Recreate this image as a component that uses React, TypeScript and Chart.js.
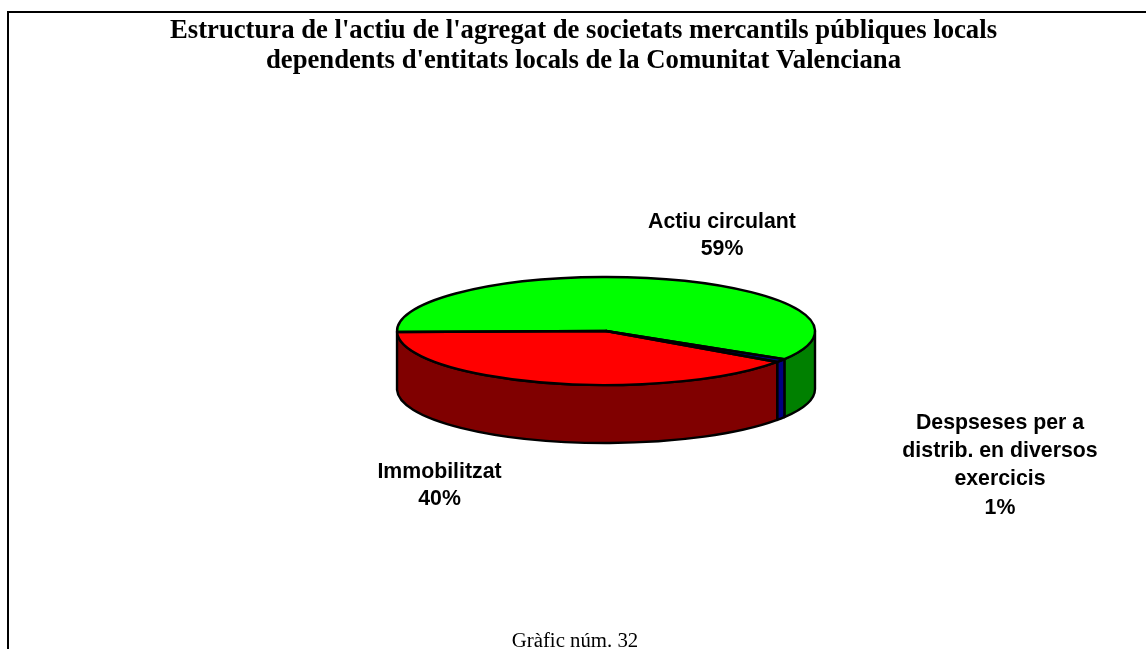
import React, { useEffect, useRef } from "react";
import { Chart, registerables } from "chart.js";

Chart.register(...registerables);

const categories = ["Actiu circulant", "Despseses per a distrib. en diversos exercicis", "Immobilitzat"];
const shares = [59, 1, 40];
const topColors = ["#00ff00", "#000080", "#ff0000"];
const wallColors = ["#008000", "#000080", "#800000"];
const titleLines = [
  "Estructura de l'actiu de l'agregat de societats mercantils públiques locals",
  "dependents d'entitats locals de la Comunitat Valenciana",
];
const caption = "Gràfic núm. 32";
const labelBlocks = [
  { lines: ["Actiu circulant", "59%"], x: 722, y: 222, gap: 27 },
  { lines: ["Despseses per a", "distrib. en diversos", "exercicis", "1%"], x: 1000, y: 423, gap: 28.3 },
  { lines: ["Immobilitzat", "40%"], x: 439.5, y: 472, gap: 27 },
];

const SQUASH = 54 / 209;
const DEPTH = 58;
const LINE = 2.4;

const pie3d = {
  id: "pie3d",
  beforeDatasetsDraw(chart: any) {
    const { ctx } = chart;
    const arcs = chart.getDatasetMeta(0).data;
    const { x: cx, y: cy, outerRadius: r } = arcs[0];
    const ry = r * SQUASH;
    ctx.save();
    ctx.lineWidth = LINE;
    ctx.strokeStyle = "#000";
    ctx.lineJoin = "round";
    const TAU = Math.PI * 2;
    arcs.forEach((arc: any, i: number) => {
      for (const shift of [0, -TAU]) {
        const a = Math.max(arc.startAngle + shift, 0);
        const b = Math.min(arc.endAngle + shift, Math.PI);
        if (b <= a) continue;
        ctx.beginPath();
        ctx.ellipse(cx, cy, r, ry, 0, a, b);
        ctx.ellipse(cx, cy + DEPTH, r, ry, 0, b, a, true);
        ctx.closePath();
        ctx.fillStyle = wallColors[i];
        ctx.fill();
        ctx.stroke();
      }
    });
    ctx.restore();
    ctx.save();
    ctx.translate(0, cy);
    ctx.scale(1, SQUASH);
    ctx.translate(0, -cy);
  },
  afterDatasetsDraw(chart: any) {
    const { ctx } = chart;
    ctx.restore();
    const arcs = chart.getDatasetMeta(0).data;
    ctx.save();
    ctx.lineWidth = LINE;
    ctx.strokeStyle = "#000";
    ctx.lineJoin = "round";
    arcs.forEach((arc: any) => {
      const ry = arc.outerRadius * SQUASH;
      ctx.beginPath();
      ctx.moveTo(arc.x, arc.y);
      ctx.ellipse(arc.x, arc.y, arc.outerRadius, ry, 0, arc.startAngle, arc.endAngle);
      ctx.closePath();
      ctx.stroke();
    });
    ctx.fillStyle = "#000";
    ctx.textAlign = "center";
    ctx.textBaseline = "middle";
    ctx.font = "bold 21.3px 'Liberation Sans'";
    labelBlocks.forEach((b) => {
      b.lines.forEach((t, i) => ctx.fillText(t, b.x, b.y + i * b.gap));
    });
    ctx.font = "bold 26.7px 'Liberation Serif'";
    titleLines.forEach((t, i) => ctx.fillText(t, 583.5, 31 + i * 30));
    ctx.restore();
  },
};

export default function App() {
  const ref = useRef<HTMLCanvasElement>(null);
  useEffect(() => {
    const chart = new Chart(ref.current!, {
      type: "pie",
      data: {
        labels: categories,
        datasets: [
          {
            data: shares,
            backgroundColor: topColors,
            borderWidth: 0,
          } as any,
        ],
      },
      options: {
        responsive: false,
        animation: false,
        rotation: -91,
        layout: { padding: { left: 397, right: 331, top: 122, bottom: 109 } },
        plugins: {
          legend: { display: false },
          tooltip: { enabled: false },
          title: { display: false },
        },
      },
      plugins: [pie3d],
    });
    return () => chart.destroy();
  }, []);
  return (
    <div style={{ position: "fixed", left: 0, top: 0, width: 1146, height: 649, overflow: "hidden", background: "#fff" }}>
      <div
        style={{
          position: "absolute",
          left: 7,
          top: 11,
          width: 1200,
          height: 700,
          borderLeft: "2px solid #000",
          borderTop: "2px solid #000",
        }}
      />
      <canvas ref={ref} width={1146} height={649} style={{ position: "absolute", left: 0, top: 0, display: "block" }} />
      <div
        style={{
          position: "absolute",
          left: 0,
          width: 1150,
          top: 628,
          textAlign: "center",
          font: "20.8px 'Liberation Serif'",
          color: "#000",
          whiteSpace: "nowrap",
        }}
      >
        {caption}
      </div>
    </div>
  );
}
